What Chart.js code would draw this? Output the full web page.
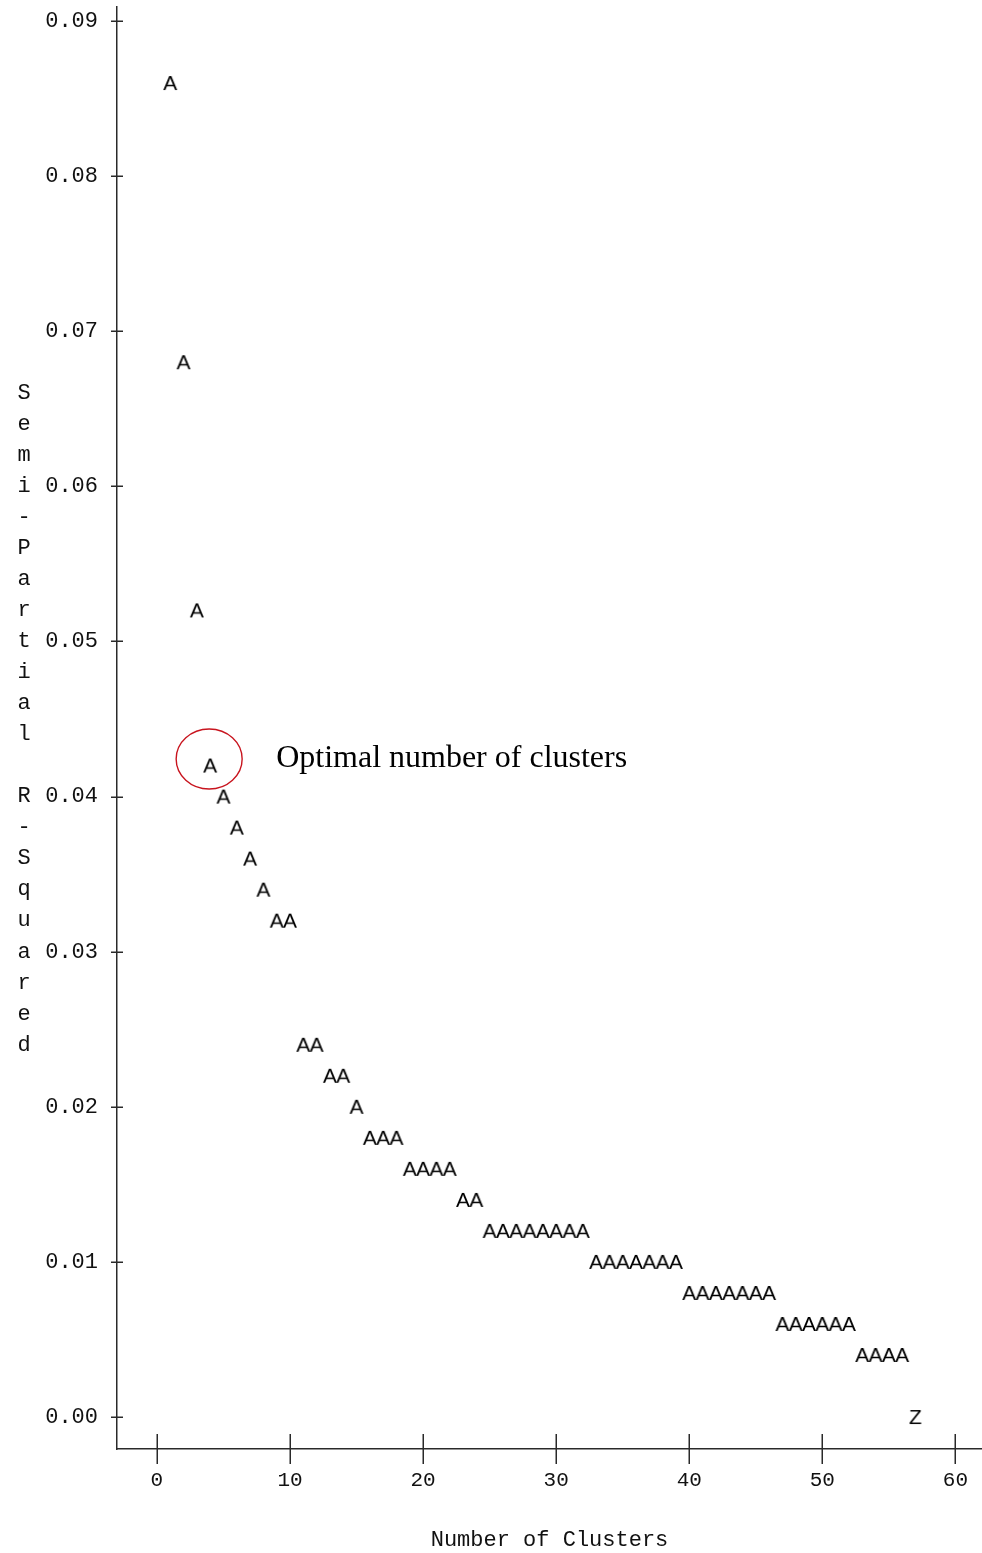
<!DOCTYPE html>
<html>
<head>
<meta charset="utf-8">
<title>Semi-Partial R-Squared by Number of Clusters</title>
<script src="https://cdn.jsdelivr.net/npm/chart.js@4"></script>
<style>
  html, body { margin: 0; padding: 0; background: #ffffff; }
  #wrap { width: 982px; height: 1553px; position: relative; }
  #chart { display: block; }
</style>
</head>
<body>
<div id="wrap"><canvas id="chart" width="982" height="1553"></canvas></div>
<script>
// Cluster history: number of clusters and the semi-partial R-squared at each merge step
const clusters = [
  1, 2, 3, 4, 5, 6, 7, 8, 9, 10,
  11, 12, 13, 14, 15, 16, 17, 18, 19, 20,
  21, 22, 23, 24, 25, 26, 27, 28, 29, 30,
  31, 32, 33, 34, 35, 36, 37, 38, 39, 40,
  41, 42, 43, 44, 45, 46, 47, 48, 49, 50,
  51, 52, 53, 54, 55, 56, 57
];
const semiPartialRSq = [
  0.086, 0.068, 0.052, 0.042, 0.040, 0.038, 0.036, 0.034, 0.032, 0.032,
  0.024, 0.024, 0.022, 0.022, 0.020, 0.018, 0.018, 0.018, 0.016, 0.016,
  0.016, 0.016, 0.014, 0.014, 0.012, 0.012, 0.012, 0.012, 0.012, 0.012,
  0.012, 0.012, 0.010, 0.010, 0.010, 0.010, 0.010, 0.010, 0.010, 0.008,
  0.008, 0.008, 0.008, 0.008, 0.008, 0.008, 0.006, 0.006, 0.006, 0.006,
  0.006, 0.006, 0.004, 0.004, 0.004, 0.004, 0.000
];
// Plot symbol for each point (the last one is printed as Z)
const plotSymbols = clusters.map((c, i) => (i === clusters.length - 1 ? 'Z' : 'A'));

const xTickValues = [0, 10, 20, 30, 40, 50, 60];
const xTickLabels = ['0', '10', '20', '30', '40', '50', '60'];
const yTickValues = [0.00, 0.01, 0.02, 0.03, 0.04, 0.05, 0.06, 0.07, 0.08, 0.09];
const yTickLabels = ['0.00', '0.01', '0.02', '0.03', '0.04', '0.05', '0.06', '0.07', '0.08', '0.09'];

const xAxisTitle = 'Number of Clusters';
const yAxisTitle = 'Semi-Partial R-Squared';
const calloutText = 'Optimal number of clusters';
const optimalClusters = 4;

const MONO = '"Liberation Mono", "DejaVu Sans Mono", monospace';
const SANS = '"Liberation Sans", Arial, sans-serif';
const SERIF = '"Liberation Serif", "DejaVu Serif", serif';
const INK = '#111111';
const AXIS = '#2a2a2a';

// Letter glyphs used as point markers
function makeGlyph(ch) {
  const c = document.createElement('canvas');
  c.width = 22;
  c.height = 28;
  const g = c.getContext('2d');
  g.font = '21px ' + SANS;
  g.fillStyle = '#000000';
  g.textAlign = 'center';
  g.textBaseline = 'alphabetic';
  g.fillText(ch, 11, 21);
  return c;
}
const glyphs = { A: makeGlyph('A'), Z: makeGlyph('Z') };

// Tick marks that cross the axis lines
const crossTicks = {
  id: 'crossTicks',
  afterDraw(chart, args, opts) {
    const { ctx, scales } = chart;
    const xs = scales.x, ys = scales.y;
    ctx.save();
    ctx.strokeStyle = AXIS;
    ctx.lineWidth = 1.5;
    const axisY = chart.chartArea.bottom;
    xs.ticks.forEach(t => {
      const px = Math.round(xs.getPixelForValue(t.value)) + 0.25;
      ctx.beginPath();
      ctx.moveTo(px, axisY - opts.xHalf);
      ctx.lineTo(px, axisY + opts.xHalf);
      ctx.stroke();
    });
    const axisX = chart.chartArea.left;
    ys.ticks.forEach(t => {
      const py = Math.round(ys.getPixelForValue(t.value)) + 0.25;
      ctx.beginPath();
      ctx.moveTo(axisX - opts.yHalf, py);
      ctx.lineTo(axisX + opts.yHalf, py);
      ctx.stroke();
    });
    ctx.restore();
  }
};

// Y axis title printed one character per print line
const stackedYTitle = {
  id: 'stackedYTitle',
  afterDraw(chart, args, opts) {
    const { ctx } = chart;
    const ys = chart.scales.y;
    const chars = Array.from(opts.text);
    const first = opts.centerValue + (chars.length - 1) / 2 * opts.rowStep;
    ctx.save();
    ctx.font = opts.font;
    ctx.fillStyle = INK;
    ctx.textAlign = 'center';
    ctx.textBaseline = 'middle';
    chars.forEach((ch, i) => {
      const py = ys.getPixelForValue(first - i * opts.rowStep);
      ctx.fillText(ch, opts.x, py);
    });
    ctx.restore();
  }
};

// Circle around the chosen solution and its caption
const callout = {
  id: 'callout',
  afterDatasetsDraw(chart, args, opts) {
    const { ctx } = chart;
    const meta = chart.getDatasetMeta(0);
    const idx = clusters.indexOf(opts.cluster);
    const pt = meta.data[idx];
    if (!pt) return;
    ctx.save();
    ctx.strokeStyle = '#c8141e';
    ctx.lineWidth = 1.4;
    ctx.beginPath();
    ctx.ellipse(pt.x - 1, pt.y - 6.5, 33, 30, 0, 0, Math.PI * 2);
    ctx.stroke();
    ctx.font = '32px ' + SERIF;
    ctx.fillStyle = '#000000';
    ctx.textAlign = 'left';
    ctx.textBaseline = 'middle';
    ctx.fillText(opts.text, pt.x + 66, pt.y - 6.5);
    ctx.restore();
  }
};

new Chart(document.getElementById('chart'), {
  type: 'scatter',
  data: {
    datasets: [{
      label: 'Semi-Partial R-Squared',
      data: clusters.map((c, i) => ({ x: c, y: semiPartialRSq[i] })),
      pointStyle: ctx => glyphs[plotSymbols[ctx.dataIndex]] || glyphs.A,
      pointRadius: 3,
      pointHoverRadius: 3,
      showLine: false
    }]
  },
  options: {
    responsive: false,
    animation: false,
    devicePixelRatio: 1,
    events: [],
    layout: { autoPadding: false, padding: { top: 7, left: 0, right: 0, bottom: 0 } },
    plugins: {
      legend: { display: false },
      tooltip: { enabled: false },
      crossTicks: { xHalf: 15, yHalf: 6 },
      stackedYTitle: {
        text: yAxisTitle,
        x: 24,
        centerValue: 0.045,
        rowStep: 0.002,
        font: '22px ' + MONO
      },
      callout: { cluster: optimalClusters, text: calloutText }
    },
    scales: {
      x: {
        type: 'linear',
        min: -3,
        max: 62,
        afterFit: s => {
          s.height = 104;
          s.paddingLeft = 0;
          s.paddingRight = 0;
        },
        afterBuildTicks: s => { s.ticks = xTickValues.map(v => ({ value: v })); },
        grid: { display: false, drawTicks: false },
        border: { display: true, color: AXIS, width: 1.5 },
        ticks: {
          padding: 19,
          color: INK,
          font: { family: MONO, size: 21 },
          maxRotation: 0,
          autoSkip: false,
          callback: (v) => xTickLabels[xTickValues.indexOf(v)]
        },
        title: {
          display: true,
          text: xAxisTitle,
          color: INK,
          font: { family: MONO, size: 22 },
          padding: { top: 0, bottom: 0 }
        }
      },
      y: {
        type: 'linear',
        min: -0.00206,
        max: 0.0909,
        afterFit: s => {
          s.width = 117;
          s.paddingTop = 0;
          s.paddingBottom = 0;
        },
        afterBuildTicks: s => { s.ticks = yTickValues.map(v => ({ value: v })); },
        grid: { display: false, drawTicks: false },
        border: { display: true, color: AXIS, width: 1.5 },
        ticks: {
          padding: 19,
          color: INK,
          font: { family: MONO, size: 22 },
          autoSkip: false,
          callback: (v) => {
            const i = yTickValues.findIndex(t => Math.abs(t - v) < 1e-9);
            return i >= 0 ? yTickLabels[i] : '';
          }
        },
        title: { display: false }
      }
    }
  },
  plugins: [crossTicks, stackedYTitle, callout]
});
</script>
</body>
</html>
